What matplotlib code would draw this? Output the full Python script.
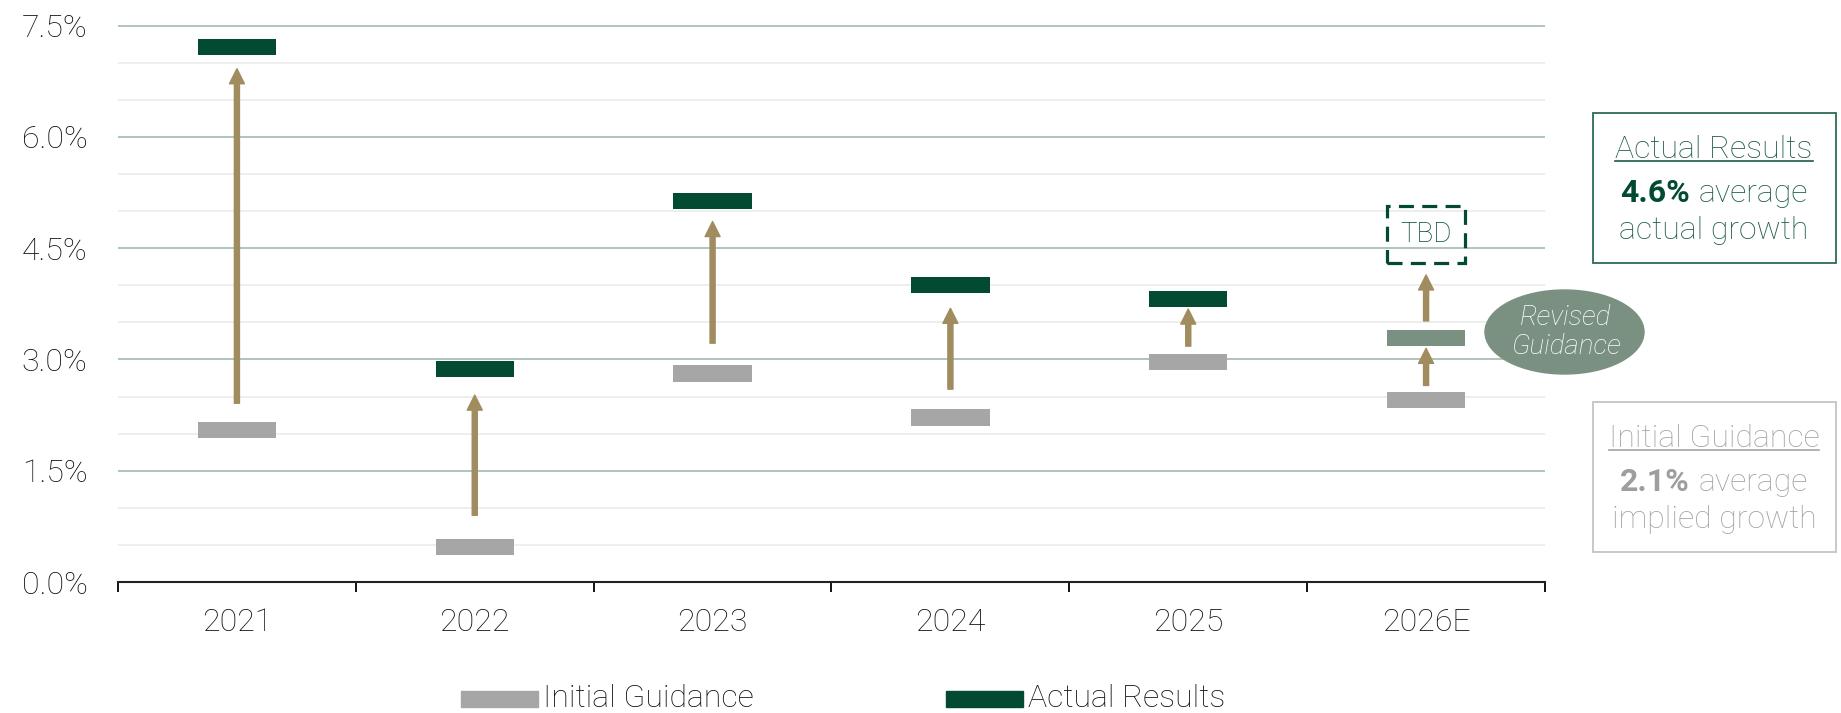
import matplotlib
matplotlib.use('Agg')
import matplotlib.pyplot as plt
from matplotlib.patches import Rectangle, Ellipse
import numpy as np

plt.rcParams['font.family'] = ['Roboto', 'DejaVu Sans']
plt.rcParams['font.weight'] = 'light'

# values (%), read per year
years = ['2021', '2022', '2023', '2024', '2025', '2026E']
initial_guidance = [2.05, 0.47, 2.81, 2.22, 2.97, 2.45]
actual_results = [7.21, 2.87, 5.14, 4.00, 3.82]
revised_guidance = 3.29          # 2026E only
tbd_range = [4.30, 5.07]         # placeholder box for 2026E
arrow_x = [0, 1, 2, 3, 4, 5, 5]
arrow_from = [2.41, 0.90, 3.22, 2.60, 3.18, 2.65, 3.52]
arrow_to = [6.92, 2.52, 4.86, 3.69, 3.68, 3.15, 4.14]
avg_actual = '4.6%'
avg_initial = '2.1%'

GREEN = '#034A33'
GRAY = '#A6A6A6'
SAGE = '#7A9182'
TAN = '#A08C5E'
INK = '#111111'
FS = 23

W, H = 1841, 713
fig = plt.figure(figsize=(W / 100, H / 100), dpi=100)
ax = fig.add_axes([118 / W, 131 / H, 1427 / W, 557 / H])

x = np.arange(len(years))
bar_w = 0.33
bar_h = 0.22

ax.bar(x, bar_h, bottom=np.array(initial_guidance) - bar_h / 2, width=bar_w,
       color=GRAY, zorder=3)
ax.bar(x[:len(actual_results)], bar_h,
       bottom=np.array(actual_results) - bar_h / 2, width=bar_w,
       color=GREEN, zorder=3)
ax.bar(x[-1], bar_h, bottom=revised_guidance - bar_h / 2, width=bar_w,
       color=SAGE, zorder=3)

for xi, a, b in zip(arrow_x, arrow_from, arrow_to):
    ax.annotate('', xy=(xi, b), xytext=(xi, a),
                arrowprops=dict(arrowstyle='simple,head_length=0.8,head_width=0.8,tail_width=0.27',
                                color=TAN, shrinkA=0, shrinkB=0, mutation_scale=13.5),
                zorder=4)

# dashed TBD box
ax.add_patch(Rectangle((x[-1] - bar_w / 2, tbd_range[0]), bar_w, tbd_range[1] - tbd_range[0],
                       fill=False, edgecolor=GREEN, lw=2.3, linestyle=(0, (4.7, 2.6)),
                       zorder=4))
ax.text(x[-1], np.mean(tbd_range), 'TBD', color=GREEN, fontsize=20,
        ha='center', va='center', zorder=5)

# axes styling
ax.set_xlim(-0.5, len(years) - 0.5)
ax.set_ylim(0, 7.51)
ax.set_yticks(np.arange(0, 7.6, 1.5))
ax.set_yticks(np.arange(0, 7.6, 0.5), minor=True)
ax.set_yticklabels(['{:.1f}%'.format(v) for v in np.arange(0, 7.6, 1.5)],
                   fontsize=FS, color=INK)
ax.set_xticks(x)
ax.set_xticklabels(years, fontsize=FS, color=INK)
ax.set_xticks(np.arange(-0.5, len(years), 1.0), minor=True)
ax.tick_params(axis='x', which='major', length=0, pad=19)
ax.tick_params(axis='x', which='minor', length=7, width=1.3, color='black', direction='out')
ax.tick_params(axis='y', which='both', length=0, pad=22)
ax.grid(axis='y', which='major', color='#A9BEB7', lw=1.3, zorder=0)
ax.grid(axis='y', which='minor', color='#EDEDED', lw=1.3, zorder=0)
ax.set_axisbelow(True)
for s in ['left', 'right', 'top']:
    ax.spines[s].set_visible(False)
ax.spines['bottom'].set_color('#222222')
ax.spines['bottom'].set_linewidth(1.5)
ax.spines['bottom'].set_zorder(6)

# revised guidance bubble
ell = Ellipse((1564.5 / W, 1 - 332 / H), 159 / W, 84 / H, transform=fig.transFigure,
              color=SAGE, zorder=5)
fig.patches.append(ell)
fig.text(1566 / W, 1 - 332 / H, 'Revised\nGuidance', color='white', fontsize=20,
         style='italic', ha='center', va='center', linespacing=1.1, zorder=6)

renderer = fig.canvas.get_renderer()


def box_block(top, color, edge, title, pct, line2, line3, pct_color):
    fig.patches.append(Rectangle((1593 / W, 1 - (top + 150) / H), 243 / W, 150 / H,
                                 transform=fig.transFigure, fill=False,
                                 edgecolor=edge, lw=1.3))
    cx = 1714
    t = fig.text(cx / W, 1 - (top + 45.5) / H, title, color=color, fontsize=FS,
                 ha='center', va='baseline')
    bb = t.get_window_extent(renderer)
    uy = 1 - (top + 48) / H
    fig.add_artist(plt.Line2D([bb.x0 / W, bb.x1 / W], [uy, uy], color=color, lw=1.2))
    # bold number followed by regular text, centred as one line
    yb = 1 - (top + 89.5) / H
    p = fig.text(0, yb, pct, color=pct_color, fontsize=FS, fontweight='bold',
                 ha='left', va='baseline')
    r = fig.text(0, yb, line2, color=color, fontsize=FS, ha='left', va='baseline')
    wp = p.get_window_extent(renderer).width
    wr = r.get_window_extent(renderer).width
    gap = 9
    x0 = cx - (wp + gap + wr) / 2
    p.set_x(x0 / W)
    r.set_x((x0 + wp + gap) / W)
    fig.text(cx / W, 1 - (top + 126) / H, line3, color=color, fontsize=FS,
             ha='center', va='baseline')


box_block(112.7, '#1E5C43', '#2E6B51', 'Actual Results', avg_actual, 'average',
          'actual growth', GREEN)
box_block(401.7, '#A3A3A3', '#C4C4C4', 'Initial Guidance', avg_initial, 'average',
          'implied growth', '#9E9E9E')

# legend
for lx, col, lab in [(461, GRAY, 'Initial Guidance'), (946, GREEN, 'Actual Results')]:
    fig.patches.append(Rectangle((lx / W, 1 - 707 / H), 77 / W, 16 / H,
                                 transform=fig.transFigure, color=col))
    fig.text((lx + 82) / W, 1 - 707 / H, lab, fontsize=FS, color=INK,
             ha='left', va='baseline')

fig.savefig('out.png', dpi=100)
